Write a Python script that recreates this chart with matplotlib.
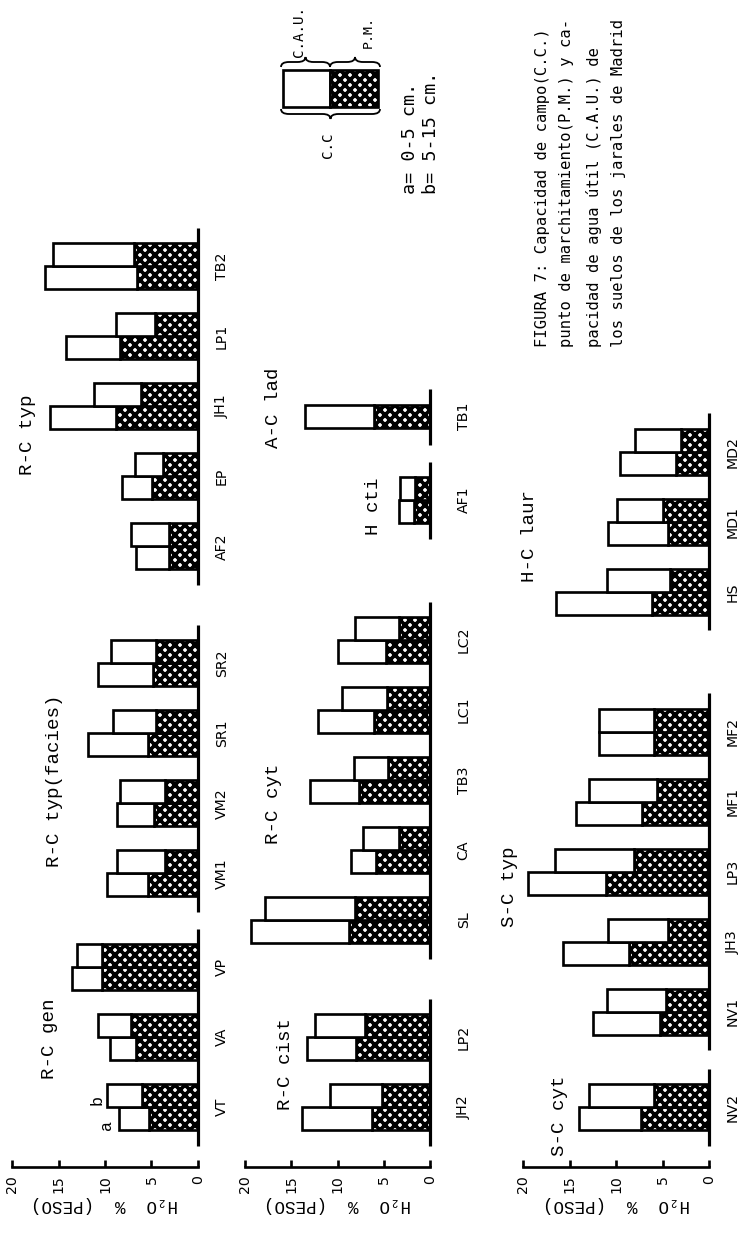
import numpy as np
import matplotlib
matplotlib.use("Agg")
import matplotlib.pyplot as plt
from matplotlib.patches import Rectangle, PathPatch
from matplotlib.path import Path

# --------------------------------------------------
# DATA  (% H2O by weight, a = 0-5 cm, b = 5-15 cm)
# cc = capacidad de campo, pm = punto de marchitamiento
# --------------------------------------------------
p1_labels = ["VT", "VA", "VP", "VM1", "VM2", "SR1", "SR2", "AF2", "EP", "JH1", "LP1", "TB2"]
p1_groups = [0, 0, 0, 1, 1, 1, 1, 2, 2, 2, 2, 2]
p1_titles = ["R-C gen", "R-C typ(facies)", "R-C typ"]
p1_cc_a = [8.5, 9.5, 13.5, 9.8, 8.7, 11.8, 10.8, 6.7, 8.2, 15.9, 14.2, 16.5]
p1_pm_a = [5.3, 6.7, 10.3, 5.4, 4.7, 5.4, 4.8, 3.1, 4.9, 8.8, 8.4, 6.6]
p1_cc_b = [9.8, 10.7, 13.0, 8.7, 8.4, 9.1, 9.4, 7.2, 6.8, 11.2, 8.8, 15.6]
p1_pm_b = [6.0, 7.2, 10.3, 3.6, 3.5, 4.5, 4.5, 3.1, 3.8, 6.1, 4.6, 6.9]

p2_labels = ["JH2", "LP2", "SL", "CA", "TB3", "LC1", "LC2", "AF1", "TB1"]
p2_groups = [0, 0, 1, 1, 1, 1, 1, 2, 3]
p2_titles = ["R-C cist", "R-C cyt", "H cti", "A-C lad"]
p2_cc_a = [13.8, 13.3, 19.4, 8.5, 13.0, 12.1, 10.0, 3.4, 13.5]
p2_pm_a = [6.3, 8.0, 8.8, 5.8, 7.7, 6.1, 4.8, 1.7, 6.1]
p2_cc_b = [10.8, 12.4, 17.8, 7.2, 8.2, 9.5, 8.1, 3.2, np.nan]
p2_pm_b = [5.2, 7.0, 8.1, 3.4, 4.5, 4.7, 3.4, 1.6, np.nan]

p3_labels = ["NV2", "NV1", "JH3", "LP3", "MF1", "MF2", "HS", "MD1", "MD2"]
p3_groups = [0, 1, 1, 1, 1, 1, 2, 2, 2]
p3_titles = ["S-C cyt", "S-C typ", "H-C laur"]
p3_cc_a = [14.0, 12.5, 15.7, 19.5, 14.3, 11.8, 16.4, 10.9, 9.6]
p3_pm_a = [7.3, 5.3, 8.6, 11.1, 7.2, 5.9, 6.1, 4.4, 3.5]
p3_cc_b = [12.9, 11.0, 10.9, 16.6, 12.9, 11.8, 11.0, 9.9, 8.0]
p3_pm_b = [5.9, 4.6, 4.4, 8.1, 5.6, 5.9, 4.2, 5.0, 3.0]

value_ticks = [0, 5, 10, 15, 20]
axis_label = "H\u2082O  %  (PESO)"

caption = [
    "FIGURA 7: Capacidad de campo(C.C.)",
    "punto de marchitamiento(P.M.) y ca-",
    "pacidad de agua \u00fatil (C.A.U.) de",
    "los suelos de los jarales de Madrid",
]

# --------------------------------------------------
# LAYOUT (pixels of the 747x1236 page, figure is turned 90 deg)
# --------------------------------------------------
W, H = 747, 1236
DPI = 120
UNIT = 70.0          # px between two sample positions
BAR_H = 0.33         # bar thickness in sample units
MONO = ["Liberation Mono", "DejaVu Sans Mono"]
HATCH = "xxxx"

plt.rcParams["font.family"] = ["DejaVu Sans"]
plt.rcParams["hatch.linewidth"] = 2.2

fig = plt.figure(figsize=(W / DPI, H / DPI), dpi=DPI)


def ftext(x, y, s, **kw):
    fig.text(x / W, 1 - y / H, s, **kw)


def positions(groups, gaps, first):
    pos = []
    cur = first
    for i, g in enumerate(groups):
        if i > 0:
            cur += 1.0
            if g != groups[i - 1]:
                cur += gaps[g - 1]
        pos.append(cur)
    return np.array(pos)


def draw_panel(x_left, x_right, zero_px, px_unit, labels, groups, gaps,
               cc_a, pm_a, cc_b, pm_b, label_pad):
    ax = fig.add_axes([x_left / W, 0, (x_right - x_left) / W, 1])
    ax.patch.set_visible(False)
    ax.set_xlim((zero_px - x_left) / px_unit, (zero_px - x_right) / px_unit)
    ax.set_ylim(0, H / UNIT)

    pos = positions(groups, gaps, (H - 1107) / UNIT)

    for i in range(len(labels)):
        if np.isnan(cc_b[i]):
            bars = [(0.0, cc_a[i], pm_a[i])]
        else:
            bars = [(-BAR_H / 2, cc_a[i], pm_a[i]), (BAR_H / 2, cc_b[i], pm_b[i])]
        for off, cc, pm in bars:
            y = pos[i] + off
            ax.barh(y, pm, height=BAR_H, left=0, facecolor="white",
                    edgecolor="black", hatch=HATCH, linewidth=1.6)
            ax.barh(y, cc - pm, height=BAR_H, left=pm, facecolor="white",
                    edgecolor="black", linewidth=1.6)

    # baseline, broken between soil groups
    for g in sorted(set(groups)):
        idx = [i for i, gg in enumerate(groups) if gg == g]
        ext = 0.4 if np.isnan(cc_b[idx[0]]) else 0.55
        ax.plot([0, 0], [pos[idx[0]] - ext, pos[idx[-1]] + ext],
                color="black", lw=1.9, solid_capstyle="butt")

    # value ruler
    for side in ["top", "left", "right"]:
        ax.spines[side].set_visible(False)
    ax.spines["bottom"].set_position(("data", (H - 1167) / UNIT))
    ax.spines["bottom"].set_bounds(0, 20)
    ax.spines["bottom"].set_linewidth(1.6)
    ax.set_xticks(value_ticks)
    ax.tick_params(axis="x", direction="in", length=4, width=1.6,
                   labelrotation=90, pad=5, labelsize=8.5)
    ax.text(10, (H - 1204) / UNIT, axis_label, rotation=180, ha="center",
            va="center", family=MONO, fontsize=10.5)

    # sample names next to the baseline
    ax.yaxis.tick_right()
    ax.spines["right"].set_position(("data", 0))
    ax.set_yticks(pos, labels)
    ax.tick_params(axis="y", length=0, pad=label_pad, labelrotation=90,
                   labelsize=8.5)
    for t in ax.get_yticklabels():
        t.set_verticalalignment("center")
    return ax, pos


ax1, pos1 = draw_panel(0, 232, 198, 9.3, p1_labels, p1_groups, [0.34, 0.67],
                       p1_cc_a, p1_pm_a, p1_cc_b, p1_pm_b, 10)
ax2, pos2 = draw_panel(232, 482, 430, 9.25, p2_labels, p2_groups, [0.67, 1.0, 0.19],
                       p2_cc_a, p2_pm_a, p2_cc_b, p2_pm_b, 16)
ax3, pos3 = draw_panel(482, 747, 709, 9.3, p3_labels, p3_groups, [0.36, 1.0],
                       p3_cc_a, p3_pm_a, p3_cc_b, p3_pm_b, 10)

# a / b marks on the first sample
ax1.text(p1_cc_a[0] + 1.3, pos1[0] - 0.25, "a", rotation=90, ha="center",
         va="center", family=MONO, fontsize=10)
ax1.text(p1_cc_b[0] + 1.1, pos1[0] + 0.1, "b", rotation=90, ha="center",
         va="center", family=MONO, fontsize=10)

# group titles
title_xy = [
    (p1_titles, [(50, 1039), (55, 781), (27, 435)]),
    (p2_titles, [(286, 1064), (274, 804), (373, 506), (273, 408)]),
    (p3_titles, [(560, 1116), (510, 887), (530, 536)]),
]
for names, xy in title_xy:
    for name, (x, y) in zip(names, xy):
        ftext(x, y, name, rotation=90, ha="center", va="center",
              family=MONO, fontsize=11.5)

# --------------------------------------------------
# KEY
# --------------------------------------------------
def fr(x0, y0, x1, y1, **kw):
    r = Rectangle((x0 / W, 1 - y1 / H), (x1 - x0) / W, (y1 - y0) / H,
                  transform=fig.transFigure, **kw)
    fig.add_artist(r)


fr(283, 70, 330, 107, facecolor="white", edgecolor="black", linewidth=1.6)
fr(330, 70, 378, 107, facecolor="white", edgecolor="black", hatch=HATCH,
   linewidth=1.6)


def brace(x0, x1, y, d, h=5):
    # horizontal curly brace, d=-1 tip points up, d=+1 tip points down
    xm = (x0 + x1) / 2
    pts = [(x0, y - d * h), (x0, y), (x0 + 8, y),
           (xm - 8, y), (xm, y), (xm, y + d * h),
           (xm, y), (xm + 8, y),
           (x1 - 8, y), (x1, y), (x1, y - d * h)]
    codes = [Path.MOVETO, Path.CURVE3, Path.CURVE3,
             Path.LINETO, Path.CURVE3, Path.CURVE3,
             Path.CURVE3, Path.CURVE3,
             Path.LINETO, Path.CURVE3, Path.CURVE3]
    verts = [(px / W, 1 - py / H) for px, py in pts]
    fig.add_artist(PathPatch(Path(verts, codes), transform=fig.transFigure,
                             facecolor="none", edgecolor="black", linewidth=1.1))


brace(281, 330, 62, -1)
brace(330, 380, 62, -1)
brace(281, 380, 114, 1)

ftext(299, 57, "C.A.U.", rotation=90, ha="center", va="bottom",
      family=["DejaVu Sans Mono"], fontsize=8.5)
ftext(368, 48, "P.M.", rotation=90, ha="center", va="bottom",
      family=["DejaVu Sans Mono"], fontsize=8)
ftext(328, 158, "C.C", rotation=90, ha="center", va="bottom",
      family=["DejaVu Sans Mono"], fontsize=8.5)
ftext(410, 194, "a= 0-5 cm.", rotation=90, ha="center", va="bottom",
      family=["DejaVu Sans Mono"], fontsize=11)
ftext(431, 194, "b= 5-15 cm.", rotation=90, ha="center", va="bottom",
      family=["DejaVu Sans Mono"], fontsize=11)

# caption
for x, line in zip([543, 567, 594, 618], caption):
    ftext(x, 347, line, rotation=90, ha="center", va="bottom",
          family=["DejaVu Sans Mono"], fontsize=9.3)

fig.savefig("out.png", dpi=DPI)
